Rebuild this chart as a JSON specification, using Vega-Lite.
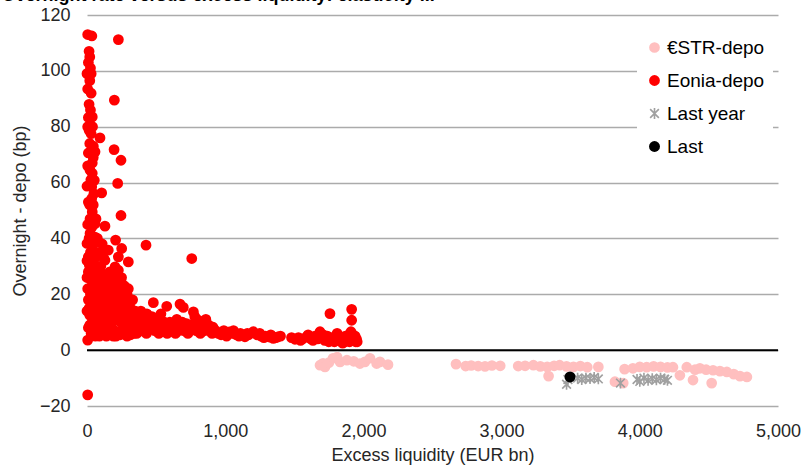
{
  "$schema": "https://vega.github.io/schema/vega-lite/v6.json",
  "width": 691,
  "height": 391,
  "autosize": {"type": "none"},
  "padding": {"left": 87, "top": 15, "right": 28, "bottom": 62},
  "title": {"text": "Overnight rate versus excess liquidity: elasticity ...", "anchor": "start", "frame": "bounds", "fontSize": 18, "fontWeight": "bold", "font": "Liberation Sans", "color": "#000000", "offset": 1, "dx": -10},
  "config": {
    "view": {"stroke": null},
    "font": "Liberation Sans",
    "axis": {"labelFont": "Liberation Sans", "titleFont": "Liberation Sans", "labelFontSize": 18, "titleFontSize": 18, "titleFontWeight": "normal", "labelColor": "#262626", "titleColor": "#262626", "labelFlush": false}
  },
  "datasets": {
    "pts": [
      {"s": "€STR-depo", "x": 1686, "y": -5.4}, {"s": "€STR-depo", "x": 1708, "y": -4.7}, {"s": "€STR-depo", "x": 1722, "y": -6}, {"s": "€STR-depo", "x": 1750, "y": -4.5}, {"s": "€STR-depo", "x": 1780, "y": -2.9}, {"s": "€STR-depo", "x": 1810, "y": -2.5}, {"s": "€STR-depo", "x": 1831, "y": -4.2}, {"s": "€STR-depo", "x": 1881, "y": -3.6}, {"s": "€STR-depo", "x": 1930, "y": -4}, {"s": "€STR-depo", "x": 1975, "y": -4.8}, {"s": "€STR-depo", "x": 2011, "y": -4.2}, {"s": "€STR-depo", "x": 2048, "y": -2.9}, {"s": "€STR-depo", "x": 2096, "y": -4.8}, {"s": "€STR-depo", "x": 2120, "y": -4.2}, {"s": "€STR-depo", "x": 2178, "y": -5.2},
      {"s": "€STR-depo", "x": 2670, "y": -5}, {"s": "€STR-depo", "x": 2740, "y": -5.7}, {"s": "€STR-depo", "x": 2780, "y": -5.5}, {"s": "€STR-depo", "x": 2830, "y": -5.7}, {"s": "€STR-depo", "x": 2880, "y": -5.8}, {"s": "€STR-depo", "x": 2930, "y": -5.5}, {"s": "€STR-depo", "x": 2990, "y": -5.6},
      {"s": "€STR-depo", "x": 3120, "y": -5.7}, {"s": "€STR-depo", "x": 3170, "y": -5.6}, {"s": "€STR-depo", "x": 3230, "y": -5.4}, {"s": "€STR-depo", "x": 3280, "y": -5.8}, {"s": "€STR-depo", "x": 3330, "y": -6}, {"s": "€STR-depo", "x": 3340, "y": -9.3}, {"s": "€STR-depo", "x": 3380, "y": -5.6}, {"s": "€STR-depo", "x": 3420, "y": -5.4}, {"s": "€STR-depo", "x": 3470, "y": -5.8}, {"s": "€STR-depo", "x": 3520, "y": -6}, {"s": "€STR-depo", "x": 3570, "y": -5.7}, {"s": "€STR-depo", "x": 3620, "y": -6.1}, {"s": "€STR-depo", "x": 3700, "y": -6},
      {"s": "€STR-depo", "x": 3820, "y": -11.3}, {"s": "€STR-depo", "x": 3880, "y": -11.8}, {"s": "€STR-depo", "x": 3890, "y": -6.8}, {"s": "€STR-depo", "x": 3950, "y": -6.5}, {"s": "€STR-depo", "x": 4000, "y": -6}, {"s": "€STR-depo", "x": 4050, "y": -6.1}, {"s": "€STR-depo", "x": 4100, "y": -5.8}, {"s": "€STR-depo", "x": 4150, "y": -6}, {"s": "€STR-depo", "x": 4200, "y": -6.2}, {"s": "€STR-depo", "x": 4240, "y": -6.1}, {"s": "€STR-depo", "x": 4290, "y": -9}, {"s": "€STR-depo", "x": 4340, "y": -6.1}, {"s": "€STR-depo", "x": 4385, "y": -10.7}, {"s": "€STR-depo", "x": 4400, "y": -7}, {"s": "€STR-depo", "x": 4435, "y": -6.5}, {"s": "€STR-depo", "x": 4480, "y": -7}, {"s": "€STR-depo", "x": 4520, "y": -11.8}, {"s": "€STR-depo", "x": 4530, "y": -7.2}, {"s": "€STR-depo", "x": 4580, "y": -7.5}, {"s": "€STR-depo", "x": 4630, "y": -7.8}, {"s": "€STR-depo", "x": 4680, "y": -8.6}, {"s": "€STR-depo", "x": 4725, "y": -9.3}, {"s": "€STR-depo", "x": 4775, "y": -9.6},

      {"s": "Eonia-depo", "x": 5, "y": 113}, {"s": "Eonia-depo", "x": 35, "y": 112.5}, {"s": "Eonia-depo", "x": 227, "y": 111.2}, {"s": "Eonia-depo", "x": 15, "y": 107}, {"s": "Eonia-depo", "x": 20, "y": 105}, {"s": "Eonia-depo", "x": 10, "y": 103}, {"s": "Eonia-depo", "x": 25, "y": 101}, {"s": "Eonia-depo", "x": 0, "y": 99}, {"s": "Eonia-depo", "x": 30, "y": 99}, {"s": "Eonia-depo", "x": 20, "y": 96.5}, {"s": "Eonia-depo", "x": 5, "y": 93.5}, {"s": "Eonia-depo", "x": 30, "y": 92}, {"s": "Eonia-depo", "x": 198, "y": 89.5},
      {"s": "Eonia-depo", "x": 10, "y": 83.3}, {"s": "Eonia-depo", "x": 38, "y": 83.5}, {"s": "Eonia-depo", "x": 15, "y": 78.7}, {"s": "Eonia-depo", "x": 30, "y": 77.5}, {"s": "Eonia-depo", "x": 94, "y": 76}, {"s": "Eonia-depo", "x": 46, "y": 73}, {"s": "Eonia-depo", "x": 196, "y": 71.8}, {"s": "Eonia-depo", "x": 10, "y": 70.6}, {"s": "Eonia-depo", "x": 58, "y": 71}, {"s": "Eonia-depo", "x": 246, "y": 68}, {"s": "Eonia-depo", "x": 38, "y": 67}, {"s": "Eonia-depo", "x": 22, "y": 64.4}, {"s": "Eonia-depo", "x": 38, "y": 63.3}, {"s": "Eonia-depo", "x": 53, "y": 60.8}, {"s": "Eonia-depo", "x": 222, "y": 59.7}, {"s": "Eonia-depo", "x": 0, "y": 58.7}, {"s": "Eonia-depo", "x": 34, "y": 58.5}, {"s": "Eonia-depo", "x": 106, "y": 56.3}, {"s": "Eonia-depo", "x": 34, "y": 54.3}, {"s": "Eonia-depo", "x": 20, "y": 52}, {"s": "Eonia-depo", "x": 38, "y": 49.5}, {"s": "Eonia-depo", "x": 246, "y": 48.2}, {"s": "Eonia-depo", "x": 22, "y": 47}, {"s": "Eonia-depo", "x": 58, "y": 45.3}, {"s": "Eonia-depo", "x": 130, "y": 44.4}, {"s": "Eonia-depo", "x": 22, "y": 41.8}, {"s": "Eonia-depo", "x": 58, "y": 40.5}, {"s": "Eonia-depo", "x": 207, "y": 39.4}, {"s": "Eonia-depo", "x": 0, "y": 38.2}, {"s": "Eonia-depo", "x": 427, "y": 37.6}, {"s": "Eonia-depo", "x": 251, "y": 36.4}, {"s": "Eonia-depo", "x": 40, "y": 36}, {"s": "Eonia-depo", "x": 154, "y": 35.8}, {"s": "Eonia-depo", "x": 10, "y": 33.4}, {"s": "Eonia-depo", "x": 227, "y": 33.4}, {"s": "Eonia-depo", "x": 758, "y": 32.8}, {"s": "Eonia-depo", "x": 130, "y": 32.2}, {"s": "Eonia-depo", "x": 299, "y": 31.6}, {"s": "Eonia-depo", "x": 34, "y": 29.8}, {"s": "Eonia-depo", "x": 203, "y": 29.8}, {"s": "Eonia-depo", "x": 227, "y": 28.6}, {"s": "Eonia-depo", "x": 10, "y": 28}, {"s": "Eonia-depo", "x": 22, "y": 25.7}, {"s": "Eonia-depo", "x": 40, "y": 24}, {"s": "Eonia-depo", "x": 251, "y": 23.9}, {"s": "Eonia-depo", "x": 5, "y": 22}, {"s": "Eonia-depo", "x": 299, "y": 22}, {"s": "Eonia-depo", "x": 50, "y": 20}, {"s": "Eonia-depo", "x": 10, "y": 18}, {"s": "Eonia-depo", "x": 30, "y": 16}, {"s": "Eonia-depo", "x": 0, "y": 14}, {"s": "Eonia-depo", "x": 20, "y": 12.5}, {"s": "Eonia-depo", "x": 40, "y": 10}, {"s": "Eonia-depo", "x": 10, "y": 8}, {"s": "Eonia-depo", "x": 30, "y": 6}, {"s": "Eonia-depo", "x": 5, "y": 3.6}, {"s": "Eonia-depo", "x": 5, "y": -16},
      {"s": "Eonia-depo", "x": 15, "y": 88}, {"s": "Eonia-depo", "x": 25, "y": 86}, {"s": "Eonia-depo", "x": 5, "y": 80}, {"s": "Eonia-depo", "x": 40, "y": 80}, {"s": "Eonia-depo", "x": 20, "y": 74}, {"s": "Eonia-depo", "x": 45, "y": 69}, {"s": "Eonia-depo", "x": 5, "y": 66}, {"s": "Eonia-depo", "x": 28, "y": 61}, {"s": "Eonia-depo", "x": 50, "y": 56}, {"s": "Eonia-depo", "x": 10, "y": 53}, {"s": "Eonia-depo", "x": 45, "y": 52}, {"s": "Eonia-depo", "x": 5, "y": 45}, {"s": "Eonia-depo", "x": 35, "y": 44}, {"s": "Eonia-depo", "x": 15, "y": 40}, {"s": "Eonia-depo", "x": 48, "y": 38}, {"s": "Eonia-depo", "x": 25, "y": 35}, {"s": "Eonia-depo", "x": 55, "y": 33}, {"s": "Eonia-depo", "x": 15, "y": 31}, {"s": "Eonia-depo", "x": 45, "y": 30}, {"s": "Eonia-depo", "x": 60, "y": 25}, {"s": "Eonia-depo", "x": 25, "y": 20}, {"s": "Eonia-depo", "x": 55, "y": 18}, {"s": "Eonia-depo", "x": 15, "y": 15}, {"s": "Eonia-depo", "x": 35, "y": 13}, {"s": "Eonia-depo", "x": 55, "y": 10}, {"s": "Eonia-depo", "x": 20, "y": 9}, {"s": "Eonia-depo", "x": 45, "y": 7}, {"s": "Eonia-depo", "x": 70, "y": 34}, {"s": "Eonia-depo", "x": 75, "y": 40}, {"s": "Eonia-depo", "x": 65, "y": 47}, {"s": "Eonia-depo", "x": 80, "y": 30}, {"s": "Eonia-depo", "x": 90, "y": 35}, {"s": "Eonia-depo", "x": 110, "y": 38}, {"s": "Eonia-depo", "x": 100, "y": 27}, {"s": "Eonia-depo", "x": 120, "y": 33}, {"s": "Eonia-depo", "x": 0, "y": 26}, {"s": "Eonia-depo", "x": 20, "y": 30}, {"s": "Eonia-depo", "x": 0, "y": 32}, {"s": "Eonia-depo", "x": 30, "y": 27},
      {"s": "Eonia-depo", "x": 60, "y": 28}, {"s": "Eonia-depo", "x": 80, "y": 26}, {"s": "Eonia-depo", "x": 100, "y": 30}, {"s": "Eonia-depo", "x": 120, "y": 27}, {"s": "Eonia-depo", "x": 150, "y": 25}, {"s": "Eonia-depo", "x": 180, "y": 24}, {"s": "Eonia-depo", "x": 200, "y": 27}, {"s": "Eonia-depo", "x": 220, "y": 25}, {"s": "Eonia-depo", "x": 250, "y": 26}, {"s": "Eonia-depo", "x": 270, "y": 23}, {"s": "Eonia-depo", "x": 290, "y": 20},
      {"s": "Eonia-depo", "x": 50, "y": 22}, {"s": "Eonia-depo", "x": 70, "y": 20}, {"s": "Eonia-depo", "x": 90, "y": 23}, {"s": "Eonia-depo", "x": 110, "y": 21}, {"s": "Eonia-depo", "x": 130, "y": 22}, {"s": "Eonia-depo", "x": 160, "y": 20}, {"s": "Eonia-depo", "x": 190, "y": 19}, {"s": "Eonia-depo", "x": 210, "y": 21}, {"s": "Eonia-depo", "x": 240, "y": 20}, {"s": "Eonia-depo", "x": 260, "y": 18}, {"s": "Eonia-depo", "x": 280, "y": 17}, {"s": "Eonia-depo", "x": 300, "y": 16},
      {"s": "Eonia-depo", "x": 45, "y": 17}, {"s": "Eonia-depo", "x": 65, "y": 15}, {"s": "Eonia-depo", "x": 85, "y": 18}, {"s": "Eonia-depo", "x": 105, "y": 16}, {"s": "Eonia-depo", "x": 125, "y": 17}, {"s": "Eonia-depo", "x": 145, "y": 15}, {"s": "Eonia-depo", "x": 170, "y": 16}, {"s": "Eonia-depo", "x": 200, "y": 14}, {"s": "Eonia-depo", "x": 230, "y": 15}, {"s": "Eonia-depo", "x": 255, "y": 13}, {"s": "Eonia-depo", "x": 285, "y": 12}, {"s": "Eonia-depo", "x": 320, "y": 12},
      {"s": "Eonia-depo", "x": 50, "y": 12}, {"s": "Eonia-depo", "x": 70, "y": 11}, {"s": "Eonia-depo", "x": 95, "y": 13}, {"s": "Eonia-depo", "x": 115, "y": 10}, {"s": "Eonia-depo", "x": 140, "y": 12}, {"s": "Eonia-depo", "x": 165, "y": 11}, {"s": "Eonia-depo", "x": 185, "y": 10}, {"s": "Eonia-depo", "x": 215, "y": 11}, {"s": "Eonia-depo", "x": 245, "y": 10}, {"s": "Eonia-depo", "x": 275, "y": 9}, {"s": "Eonia-depo", "x": 310, "y": 9}, {"s": "Eonia-depo", "x": 350, "y": 10},
      {"s": "Eonia-depo", "x": 60, "y": 8}, {"s": "Eonia-depo", "x": 80, "y": 7}, {"s": "Eonia-depo", "x": 100, "y": 9}, {"s": "Eonia-depo", "x": 125, "y": 7}, {"s": "Eonia-depo", "x": 150, "y": 8}, {"s": "Eonia-depo", "x": 175, "y": 6}, {"s": "Eonia-depo", "x": 200, "y": 7}, {"s": "Eonia-depo", "x": 225, "y": 6}, {"s": "Eonia-depo", "x": 250, "y": 7}, {"s": "Eonia-depo", "x": 280, "y": 6}, {"s": "Eonia-depo", "x": 310, "y": 7}, {"s": "Eonia-depo", "x": 340, "y": 6}, {"s": "Eonia-depo", "x": 370, "y": 8},
      {"s": "Eonia-depo", "x": 90, "y": 5}, {"s": "Eonia-depo", "x": 140, "y": 5}, {"s": "Eonia-depo", "x": 190, "y": 5}, {"s": "Eonia-depo", "x": 240, "y": 5.5}, {"s": "Eonia-depo", "x": 290, "y": 5},
      {"s": "Eonia-depo", "x": 70, "y": 24}, {"s": "Eonia-depo", "x": 85, "y": 21}, {"s": "Eonia-depo", "x": 95, "y": 27}, {"s": "Eonia-depo", "x": 110, "y": 25}, {"s": "Eonia-depo", "x": 115, "y": 18}, {"s": "Eonia-depo", "x": 135, "y": 19}, {"s": "Eonia-depo", "x": 140, "y": 24}, {"s": "Eonia-depo", "x": 155, "y": 22}, {"s": "Eonia-depo", "x": 165, "y": 28}, {"s": "Eonia-depo", "x": 175, "y": 18}, {"s": "Eonia-depo", "x": 185, "y": 14}, {"s": "Eonia-depo", "x": 195, "y": 22}, {"s": "Eonia-depo", "x": 205, "y": 17}, {"s": "Eonia-depo", "x": 215, "y": 13}, {"s": "Eonia-depo", "x": 225, "y": 19}, {"s": "Eonia-depo", "x": 235, "y": 22}, {"s": "Eonia-depo", "x": 245, "y": 16}, {"s": "Eonia-depo", "x": 265, "y": 21}, {"s": "Eonia-depo", "x": 270, "y": 14}, {"s": "Eonia-depo", "x": 295, "y": 14}, {"s": "Eonia-depo", "x": 305, "y": 11}, {"s": "Eonia-depo", "x": 315, "y": 15}, {"s": "Eonia-depo", "x": 330, "y": 13}, {"s": "Eonia-depo", "x": 340, "y": 9}, {"s": "Eonia-depo", "x": 360, "y": 12}, {"s": "Eonia-depo", "x": 375, "y": 10}, {"s": "Eonia-depo", "x": 390, "y": 14},
      {"s": "Eonia-depo", "x": 60, "y": 5}, {"s": "Eonia-depo", "x": 110, "y": 6}, {"s": "Eonia-depo", "x": 160, "y": 6}, {"s": "Eonia-depo", "x": 210, "y": 5}, {"s": "Eonia-depo", "x": 260, "y": 6}, {"s": "Eonia-depo", "x": 315, "y": 5.5}, {"s": "Eonia-depo", "x": 360, "y": 6}, {"s": "Eonia-depo", "x": 395, "y": 9},
      {"s": "Eonia-depo", "x": 330, "y": 18}, {"s": "Eonia-depo", "x": 350, "y": 14}, {"s": "Eonia-depo", "x": 380, "y": 12}, {"s": "Eonia-depo", "x": 410, "y": 11}, {"s": "Eonia-depo", "x": 420, "y": 10}, {"s": "Eonia-depo", "x": 433, "y": 13}, {"s": "Eonia-depo", "x": 445, "y": 8}, {"s": "Eonia-depo", "x": 470, "y": 12}, {"s": "Eonia-depo", "x": 480, "y": 17}, {"s": "Eonia-depo", "x": 505, "y": 9}, {"s": "Eonia-depo", "x": 520, "y": 11}, {"s": "Eonia-depo", "x": 535, "y": 13}, {"s": "Eonia-depo", "x": 560, "y": 10}, {"s": "Eonia-depo", "x": 577, "y": 15.7}, {"s": "Eonia-depo", "x": 590, "y": 8}, {"s": "Eonia-depo", "x": 600, "y": 10}, {"s": "Eonia-depo", "x": 625, "y": 9}, {"s": "Eonia-depo", "x": 650, "y": 11}, {"s": "Eonia-depo", "x": 660, "y": 7}, {"s": "Eonia-depo", "x": 673, "y": 16.5}, {"s": "Eonia-depo", "x": 690, "y": 10}, {"s": "Eonia-depo", "x": 697, "y": 15.3}, {"s": "Eonia-depo", "x": 720, "y": 9.5}, {"s": "Eonia-depo", "x": 745, "y": 8}, {"s": "Eonia-depo", "x": 770, "y": 13.7}, {"s": "Eonia-depo", "x": 780, "y": 12}, {"s": "Eonia-depo", "x": 805, "y": 10.7}, {"s": "Eonia-depo", "x": 810, "y": 8}, {"s": "Eonia-depo", "x": 830, "y": 10}, {"s": "Eonia-depo", "x": 860, "y": 11}, {"s": "Eonia-depo", "x": 880, "y": 9},
      {"s": "Eonia-depo", "x": 400, "y": 7}, {"s": "Eonia-depo", "x": 430, "y": 6}, {"s": "Eonia-depo", "x": 460, "y": 9}, {"s": "Eonia-depo", "x": 490, "y": 7}, {"s": "Eonia-depo", "x": 520, "y": 6}, {"s": "Eonia-depo", "x": 550, "y": 8}, {"s": "Eonia-depo", "x": 580, "y": 6}, {"s": "Eonia-depo", "x": 610, "y": 7}, {"s": "Eonia-depo", "x": 640, "y": 6}, {"s": "Eonia-depo", "x": 670, "y": 8}, {"s": "Eonia-depo", "x": 700, "y": 7}, {"s": "Eonia-depo", "x": 730, "y": 6}, {"s": "Eonia-depo", "x": 760, "y": 9}, {"s": "Eonia-depo", "x": 790, "y": 7}, {"s": "Eonia-depo", "x": 820, "y": 6}, {"s": "Eonia-depo", "x": 850, "y": 7}, {"s": "Eonia-depo", "x": 880, "y": 8}, {"s": "Eonia-depo", "x": 905, "y": 6}, {"s": "Eonia-depo", "x": 912, "y": 8.2}, {"s": "Eonia-depo", "x": 930, "y": 7}, {"s": "Eonia-depo", "x": 950, "y": 6}, {"s": "Eonia-depo", "x": 970, "y": 5.5}, {"s": "Eonia-depo", "x": 990, "y": 7}, {"s": "Eonia-depo", "x": 1010, "y": 5}, {"s": "Eonia-depo", "x": 1030, "y": 6.5}, {"s": "Eonia-depo", "x": 1050, "y": 6}, {"s": "Eonia-depo", "x": 1060, "y": 7}, {"s": "Eonia-depo", "x": 1080, "y": 5.5}, {"s": "Eonia-depo", "x": 1100, "y": 5}, {"s": "Eonia-depo", "x": 1110, "y": 6}, {"s": "Eonia-depo", "x": 1143, "y": 4.8}, {"s": "Eonia-depo", "x": 1160, "y": 6}, {"s": "Eonia-depo", "x": 1170, "y": 5.5}, {"s": "Eonia-depo", "x": 1203, "y": 6.6}, {"s": "Eonia-depo", "x": 1230, "y": 5.5}, {"s": "Eonia-depo", "x": 1250, "y": 6}, {"s": "Eonia-depo", "x": 1260, "y": 5}, {"s": "Eonia-depo", "x": 1280, "y": 4.5}, {"s": "Eonia-depo", "x": 1290, "y": 5}, {"s": "Eonia-depo", "x": 1320, "y": 4.7}, {"s": "Eonia-depo", "x": 1330, "y": 5.5}, {"s": "Eonia-depo", "x": 1348, "y": 4.2}, {"s": "Eonia-depo", "x": 1365, "y": 4.5}, {"s": "Eonia-depo", "x": 1380, "y": 4.7}, {"s": "Eonia-depo", "x": 1400, "y": 5},
      {"s": "Eonia-depo", "x": 1480, "y": 4.5}, {"s": "Eonia-depo", "x": 1505, "y": 3.9}, {"s": "Eonia-depo", "x": 1530, "y": 4.5}, {"s": "Eonia-depo", "x": 1545, "y": 3.5}, {"s": "Eonia-depo", "x": 1560, "y": 4}, {"s": "Eonia-depo", "x": 1590, "y": 4.8}, {"s": "Eonia-depo", "x": 1600, "y": 5.5}, {"s": "Eonia-depo", "x": 1620, "y": 4}, {"s": "Eonia-depo", "x": 1635, "y": 3.5}, {"s": "Eonia-depo", "x": 1650, "y": 5}, {"s": "Eonia-depo", "x": 1670, "y": 4}, {"s": "Eonia-depo", "x": 1686, "y": 6.6}, {"s": "Eonia-depo", "x": 1700, "y": 4.5}, {"s": "Eonia-depo", "x": 1710, "y": 5.5}, {"s": "Eonia-depo", "x": 1720, "y": 3.5}, {"s": "Eonia-depo", "x": 1740, "y": 5}, {"s": "Eonia-depo", "x": 1750, "y": 3}, {"s": "Eonia-depo", "x": 1758, "y": 13.1}, {"s": "Eonia-depo", "x": 1770, "y": 4}, {"s": "Eonia-depo", "x": 1780, "y": 4.5}, {"s": "Eonia-depo", "x": 1790, "y": 3}, {"s": "Eonia-depo", "x": 1800, "y": 5}, {"s": "Eonia-depo", "x": 1810, "y": 6}, {"s": "Eonia-depo", "x": 1820, "y": 4}, {"s": "Eonia-depo", "x": 1830, "y": 3.5}, {"s": "Eonia-depo", "x": 1840, "y": 3}, {"s": "Eonia-depo", "x": 1850, "y": 2.5}, {"s": "Eonia-depo", "x": 1860, "y": 4}, {"s": "Eonia-depo", "x": 1865, "y": 3}, {"s": "Eonia-depo", "x": 1870, "y": 5}, {"s": "Eonia-depo", "x": 1880, "y": 3.5}, {"s": "Eonia-depo", "x": 1890, "y": 4.5}, {"s": "Eonia-depo", "x": 1895, "y": 5.5}, {"s": "Eonia-depo", "x": 1900, "y": 3}, {"s": "Eonia-depo", "x": 1910, "y": 6.6}, {"s": "Eonia-depo", "x": 1915, "y": 10.7}, {"s": "Eonia-depo", "x": 1915, "y": 14.6}, {"s": "Eonia-depo", "x": 1920, "y": 4}, {"s": "Eonia-depo", "x": 1925, "y": 5.5}, {"s": "Eonia-depo", "x": 1930, "y": 3.5}, {"s": "Eonia-depo", "x": 1940, "y": 5}, {"s": "Eonia-depo", "x": 1945, "y": 3}, {"s": "Eonia-depo", "x": 1950, "y": 4}, {"s": "Eonia-depo", "x": 1955, "y": 3},

      {"s": "Last year", "x": 3470, "y": -12.2}, {"s": "Last year", "x": 3480, "y": -10.5}, {"s": "Last year", "x": 3550, "y": -10}, {"s": "Last year", "x": 3580, "y": -10.5}, {"s": "Last year", "x": 3610, "y": -10}, {"s": "Last year", "x": 3640, "y": -10.2}, {"s": "Last year", "x": 3670, "y": -9.8}, {"s": "Last year", "x": 3700, "y": -10.3}, {"s": "Last year", "x": 3860, "y": -11.8}, {"s": "Last year", "x": 3980, "y": -10.5}, {"s": "Last year", "x": 4000, "y": -11.2}, {"s": "Last year", "x": 4030, "y": -10}, {"s": "Last year", "x": 4060, "y": -10.8}, {"s": "Last year", "x": 4090, "y": -10.2}, {"s": "Last year", "x": 4120, "y": -10.6}, {"s": "Last year", "x": 4150, "y": -10}, {"s": "Last year", "x": 4180, "y": -10.4}, {"s": "Last year", "x": 4200, "y": -10.8},
      {"s": "Last", "x": 3495, "y": -9.6}
    ]
  },
  "layer": [
    {
      "data": {"values": [{"y": 0}]},
      "mark": {"type": "rule", "color": "#000000", "strokeWidth": 2},
      "encoding": {"y": {"field": "y", "type": "quantitative"}}
    },
    {
      "data": {"name": "pts"},
      "mark": {"type": "point", "filled": true, "opacity": 1},
      "encoding": {
        "x": {"field": "x", "type": "quantitative", "scale": {"domain": [0, 5000], "nice": false},
              "axis": {"title": "Excess liquidity (EUR bn)", "values": [0, 1000, 2000, 3000, 4000, 5000], "format": ",d", "grid": false, "domain": false, "ticks": false, "labelPadding": 16, "titlePadding": 6}},
        "y": {"field": "y", "type": "quantitative", "scale": {"domain": [-20, 120], "nice": false},
              "axis": {"title": "Overnight - depo (bp)", "values": [-20, 0, 20, 40, 60, 80, 100, 120], "grid": true, "gridColor": "#ababab", "gridWidth": 1.5, "domain": false, "ticks": false, "labelPadding": 17, "titlePadding": 10}},
        "color": {"field": "s", "type": "nominal",
                  "scale": {"domain": ["€STR-depo", "Eonia-depo", "Last year", "Last"], "range": ["#FFBFBF", "#FF0000", "#A0A0A0", "#000000"]},
                  "legend": {"title": null, "orient": "none", "legendX": 550, "legendY": 15, "fillColor": "#ffffff", "padding": 8, "labelFontSize": 19, "labelFont": "Liberation Sans", "labelColor": "#000000", "symbolSize": 95, "rowPadding": 13, "labelOffset": 3}},
        "shape": {"field": "s", "type": "nominal",
                  "scale": {"domain": ["€STR-depo", "Eonia-depo", "Last year", "Last"], "range": ["circle", "circle", "M-0.15,-1L0.15,-1L0.15,1L-0.15,1ZM-0.906,-0.694L-0.694,-0.906L0.906,0.694L0.694,0.906ZM-0.906,0.694L0.694,-0.906L0.906,-0.694L-0.694,0.906Z", "circle"]},
                  "legend": {"title": null}},
        "size": {"field": "s", "type": "nominal",
                 "scale": {"domain": ["€STR-depo", "Eonia-depo", "Last year", "Last"], "range": [115, 120, 95, 170]},
                 "legend": null}
      }
    }
  ]
}
